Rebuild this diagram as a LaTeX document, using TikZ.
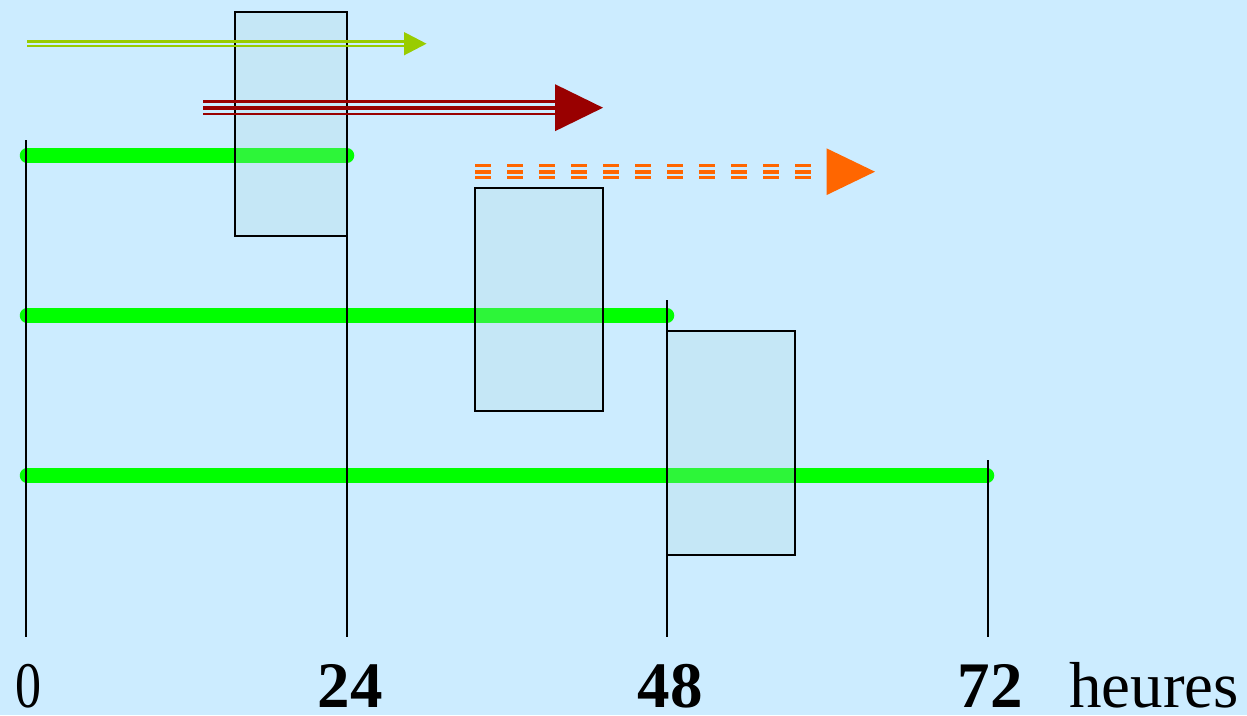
\documentclass[tikz,border=0pt]{standalone}
\usepackage{fontspec}
\setmainfont{Liberation Serif}
\definecolor{bg}{RGB}{204,236,255}
\definecolor{boxfill}{RGB}{177,217,224}
\definecolor{tl}{RGB}{0,255,0}
\definecolor{garrow}{RGB}{153,204,0}
\definecolor{rarrow}{RGB}{153,0,0}
\definecolor{oarrow}{RGB}{255,102,0}
\begin{document}
\begin{tikzpicture}[x=1pt,y=-1pt,
  timeline/.style={line width=14.5pt, line cap=round, tl},
  window/.style={draw=black, line width=1.4pt, fill=boxfill, fill opacity=0.26, inner sep=0pt, minimum width=#1},
  axisline/.style={draw=black, line width=1.4pt},
  lbl/.style={font=\fontsize{65}{65}\selectfont, anchor=base, inner sep=0pt},
  blbl/.style={lbl, font=\fontsize{65}{65}\selectfont\bfseries}]
\fill[bg] (0,0) rectangle (1247,715);
\useasboundingbox (0,0) rectangle (1247,715);

% axis coordinates
\coordinate (a0t) at (26,140);  \coordinate (a0b) at (26,637);
\coordinate (a24t) at (347,236); \coordinate (a24b) at (347,637);
\coordinate (a48t) at (667,300); \coordinate (a48b) at (667,637);
\coordinate (a72t) at (988,460); \coordinate (a72b) at (988,637);

% green timelines
\coordinate (l1s) at (27,155.5); \coordinate (l1e) at (347,155.5);
\coordinate (l2s) at (27,315.5); \coordinate (l2e) at (667,315.5);
\coordinate (l3s) at (27,475.5); \coordinate (l3e) at (987,475.5);
\draw[timeline] (l1s) -- (l1e);
\draw[timeline] (l2s) -- (l2e);
\draw[timeline] (l3s) -- (l3e);

% windows
\node[window=112pt, minimum height=224pt] (b1) at (291,124) {};
\node[window=128pt, minimum height=223pt] (b2) at (539,299.5) {};
\node[window=128pt, minimum height=224pt] (b3) at (731,443) {};

% axis lines
\draw[axisline] (a0t) -- (a0b);
\draw[axisline] (a24t) -- (a24b);
\draw[axisline] (a48t) -- (a48b);
\draw[axisline] (a72t) -- (a72b);

% green double arrow
\coordinate (gs) at (27,43.7); \coordinate (ge) at (404,43.7); \coordinate (gt) at (426.5,43.7);
\draw[garrow, line width=2.7pt] ([yshift=-2.4pt]gs) -- ([yshift=-2.4pt]ge);
\draw[garrow, line width=2.7pt] ([yshift=2.3pt]gs) -- ([yshift=2.3pt]ge);
\fill[garrow] ([yshift=-11.7pt]ge) -- (gt) -- ([yshift=11.7pt]ge) -- cycle;

% dark red triple arrow
\coordinate (rs) at (203,107.7); \coordinate (re) at (555,107.7); \coordinate (rt) at (603,107.7);
\draw[rarrow, line width=2.7pt] ([yshift=-6.4pt]rs) -- ([yshift=-6.4pt]re);
\draw[rarrow, line width=4pt] (rs) -- (re);
\draw[rarrow, line width=2.7pt] ([yshift=6.4pt]rs) -- ([yshift=6.4pt]re);
\fill[rarrow] ([yshift=-23.5pt]re) -- (rt) -- ([yshift=23.5pt]re) -- cycle;

% orange dashed triple arrow
\coordinate (os) at (475,171.7); \coordinate (oe) at (811,171.7);
\coordinate (oh) at (826.5,171.7); \coordinate (ot) at (875,171.7);
\draw[oarrow, line width=3pt, dash pattern=on 16pt off 16pt] ([yshift=-6.2pt]os) -- ([yshift=-6.2pt]oe);
\draw[oarrow, line width=3.6pt, dash pattern=on 16pt off 16pt] ([yshift=-0.5pt]os) -- ([yshift=-0.5pt]oe);
\draw[oarrow, line width=3pt, dash pattern=on 16pt off 16pt] ([yshift=6.3pt]os) -- ([yshift=6.3pt]oe);
\fill[oarrow] ([yshift=-23.4pt]oh) -- (ot) -- ([yshift=23.4pt]oh) -- cycle;

% labels
\node[lbl] (t0) at (28,707) {\scalebox{0.8}[1]{0}};
\node[blbl] (t24) at (350,707) {24};
\node[blbl] (t48) at (670,707) {48};
\node[blbl] (t72) at (990,707) {72};
\node[lbl, anchor=base west] (th) at (1069,707) {heures};
\end{tikzpicture}
\end{document}
